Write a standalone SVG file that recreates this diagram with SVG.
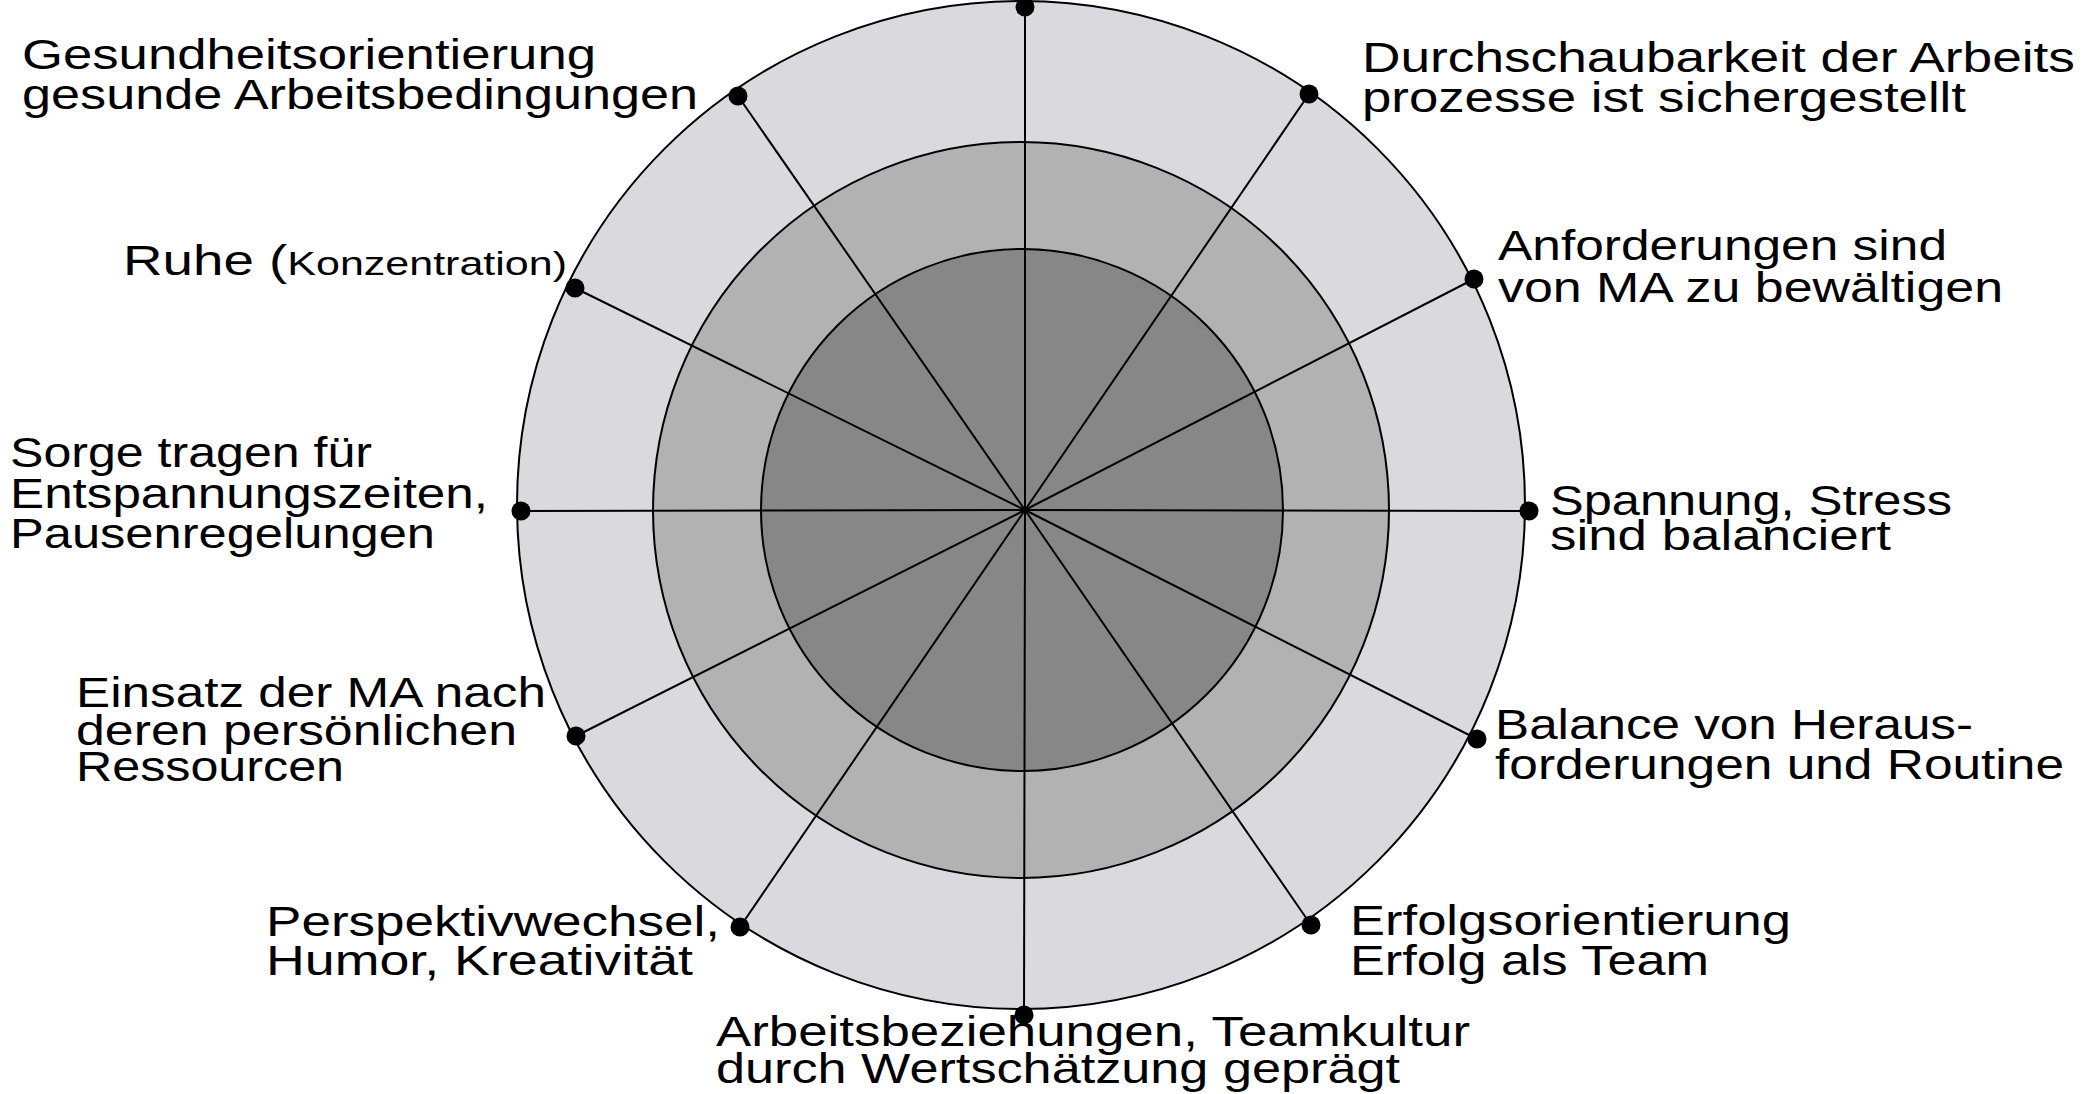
<svg xmlns="http://www.w3.org/2000/svg" width="2093" height="1094" viewBox="0 0 2093 1094">
  <style>
    .ring { stroke: #000; stroke-width: 2; }
    .spoke { stroke: #000; stroke-width: 2; fill: none; }
    .dot { fill: #000; }
    .lbl { font-family: "Liberation Sans", Arial, sans-serif; font-size: 42px; fill: #000; }
    .small { font-size: 33px; }
  </style>
  <rect width="2093" height="1094" fill="#fff"/>

  <!-- concentric rating rings -->
  <g id="rings">
    <circle class="ring" cx="1021" cy="505" r="504" fill="#d9d9de"/>
    <circle class="ring" cx="1021" cy="510" r="368" fill="#b2b2b2"/>
    <circle class="ring" cx="1022" cy="510" r="261" fill="#878787"/>
  </g>

  <!-- spokes from the hub to each criterion -->
  <g id="connectors">
    <line class="spoke" x1="1025" y1="510" x2="1025" y2="7"/>
    <line class="spoke" x1="1025" y1="510" x2="1309" y2="94"/>
    <line class="spoke" x1="1025" y1="510" x2="1474" y2="279"/>
    <line class="spoke" x1="1025" y1="510" x2="1529" y2="511"/>
    <line class="spoke" x1="1025" y1="510" x2="1477" y2="739"/>
    <line class="spoke" x1="1025" y1="510" x2="1311" y2="925"/>
    <line class="spoke" x1="1025" y1="510" x2="1024" y2="1015"/>
    <line class="spoke" x1="1025" y1="510" x2="740" y2="927"/>
    <line class="spoke" x1="1025" y1="510" x2="576" y2="736"/>
    <line class="spoke" x1="1025" y1="510" x2="521" y2="511"/>
    <line class="spoke" x1="1025" y1="510" x2="575" y2="288"/>
    <line class="spoke" x1="1025" y1="510" x2="738" y2="96"/>
  </g>

  <!-- criteria: end point + label -->
  <g id="n-top">
    <circle class="dot" cx="1025" cy="7" r="9.5"/>
  </g>
  <g id="n-durchschaubarkeit">
    <circle class="dot" cx="1309" cy="94" r="9.5"/>
    <text class="lbl" x="1362" y="72" textLength="713" lengthAdjust="spacingAndGlyphs">Durchschaubarkeit der Arbeits</text>
    <text class="lbl" x="1362" y="112" textLength="604" lengthAdjust="spacingAndGlyphs">prozesse ist sichergestellt</text>
  </g>
  <g id="n-anforderungen">
    <circle class="dot" cx="1474" cy="279" r="9.5"/>
    <text class="lbl" x="1498" y="260" textLength="449" lengthAdjust="spacingAndGlyphs">Anforderungen sind</text>
    <text class="lbl" x="1498" y="302" textLength="505" lengthAdjust="spacingAndGlyphs">von MA zu bewältigen</text>
  </g>
  <g id="n-spannung">
    <circle class="dot" cx="1529" cy="511" r="9.5"/>
    <text class="lbl" x="1550" y="515" textLength="402" lengthAdjust="spacingAndGlyphs">Spannung, Stress</text>
    <text class="lbl" x="1550" y="550" textLength="341" lengthAdjust="spacingAndGlyphs">sind balanciert</text>
  </g>
  <g id="n-balance">
    <circle class="dot" cx="1477" cy="739" r="9.5"/>
    <text class="lbl" x="1495" y="739" textLength="478" lengthAdjust="spacingAndGlyphs">Balance von Heraus-</text>
    <text class="lbl" x="1495" y="779" textLength="569" lengthAdjust="spacingAndGlyphs">forderungen und Routine</text>
  </g>
  <g id="n-erfolg">
    <circle class="dot" cx="1311" cy="925" r="9.5"/>
    <text class="lbl" x="1350" y="935" textLength="441" lengthAdjust="spacingAndGlyphs">Erfolgsorientierung</text>
    <text class="lbl" x="1350" y="975" textLength="359" lengthAdjust="spacingAndGlyphs">Erfolg als Team</text>
  </g>
  <g id="n-arbeitsbeziehungen">
    <circle class="dot" cx="1024" cy="1015" r="9.5"/>
    <text class="lbl" x="716" y="1046" textLength="754" lengthAdjust="spacingAndGlyphs">Arbeitsbeziehungen, Teamkultur</text>
    <text class="lbl" x="716" y="1083" textLength="684" lengthAdjust="spacingAndGlyphs">durch Wertschätzung geprägt</text>
  </g>
  <g id="n-perspektivwechsel">
    <circle class="dot" cx="740" cy="927" r="9.5"/>
    <text class="lbl" x="266" y="936" textLength="454" lengthAdjust="spacingAndGlyphs">Perspektivwechsel,</text>
    <text class="lbl" x="266" y="975" textLength="427" lengthAdjust="spacingAndGlyphs">Humor, Kreativität</text>
  </g>
  <g id="n-einsatz">
    <circle class="dot" cx="576" cy="736" r="9.5"/>
    <text class="lbl" x="76" y="707" textLength="470" lengthAdjust="spacingAndGlyphs">Einsatz der MA nach</text>
    <text class="lbl" x="76" y="745" textLength="441" lengthAdjust="spacingAndGlyphs">deren persönlichen</text>
    <text class="lbl" x="76" y="781" textLength="268" lengthAdjust="spacingAndGlyphs">Ressourcen</text>
  </g>
  <g id="n-sorge">
    <circle class="dot" cx="521" cy="511" r="9.5"/>
    <text class="lbl" x="10" y="467" textLength="362" lengthAdjust="spacingAndGlyphs">Sorge tragen für</text>
    <text class="lbl" x="10" y="508" textLength="478" lengthAdjust="spacingAndGlyphs">Entspannungszeiten,</text>
    <text class="lbl" x="10" y="548" textLength="425" lengthAdjust="spacingAndGlyphs">Pausenregelungen</text>
  </g>
  <g id="n-ruhe">
    <circle class="dot" cx="575" cy="288" r="9.5"/>
    <text class="lbl" x="123" y="275" textLength="444" lengthAdjust="spacingAndGlyphs">Ruhe (<tspan class="small">Konzentration)</tspan></text>
  </g>
  <g id="n-gesundheit">
    <circle class="dot" cx="738" cy="96" r="9.5"/>
    <text class="lbl" x="22" y="69" textLength="574" lengthAdjust="spacingAndGlyphs">Gesundheitsorientierung</text>
    <text class="lbl" x="22" y="109" textLength="676" lengthAdjust="spacingAndGlyphs">gesunde Arbeitsbedingungen</text>
  </g>
</svg>
